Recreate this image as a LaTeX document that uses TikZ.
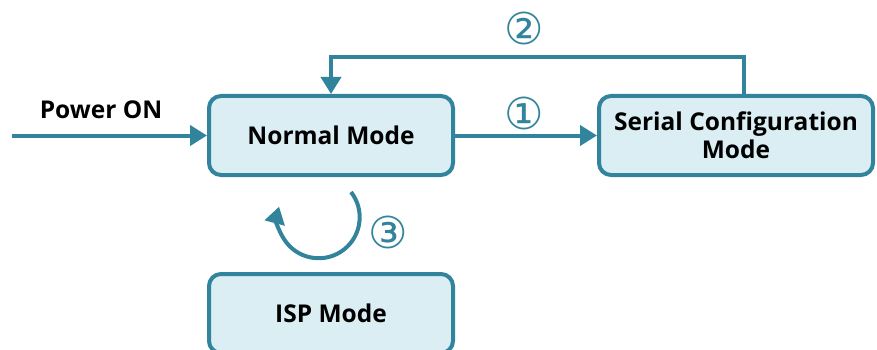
\documentclass[tikz,border=0pt]{standalone}
\usepackage{fontspec}
\setmainfont{Open Sans}
\newfontfamily\circfont{DejaVu Sans}
\usetikzlibrary{arrows.meta}
\definecolor{modeline}{HTML}{31849B}
\definecolor{modefill}{HTML}{DAEEF3}
\begin{document}
\begin{tikzpicture}[x=1pt,y=-1pt,line width=4pt,
  mode/.style={draw=modeline,fill=modefill,rounded corners=12pt,minimum height=79pt,
    align=center,font=\bfseries\fontsize{24.5}{28}\selectfont},
  flow/.style={draw=modeline,-{Triangle[length=17pt,width=20pt]}},
  num/.style={text=modeline,font=\circfont\fontsize{44}{44}\selectfont}]
\useasboundingbox (0,0) rectangle (877,350);
\draw (331,135.5) node[mode, minimum width=244pt] (normal) {Normal Mode};
\draw (736,135.5) node[mode, minimum width=274pt] (serial) {Serial Configuration\\Mode};
\draw (331,313.5) node[mode, minimum width=244pt] (isp) {ISP Mode};
\draw (101,110) node[font=\bfseries\fontsize{24.5}{28}\selectfont] (power) {Power ON};
\coordinate (start) at (12,135.5);
\coordinate (back) at (744,57);
\coordinate (loop) at (351,192);
\draw[flow] (start) -- (normal.west);
\draw[flow] (normal.east) -- (serial.west);
\draw[flow] (serial.north -| back) -- (back) -| (normal.north);
\draw[flow] (loop) arc[start angle=-38, end angle=195, radius=41];
\draw (524,113) node[num] (one) {①};
\draw (524,28) node[num] (two) {②};
\draw (388,232) node[num] (three) {③};
\end{tikzpicture}
\end{document}
